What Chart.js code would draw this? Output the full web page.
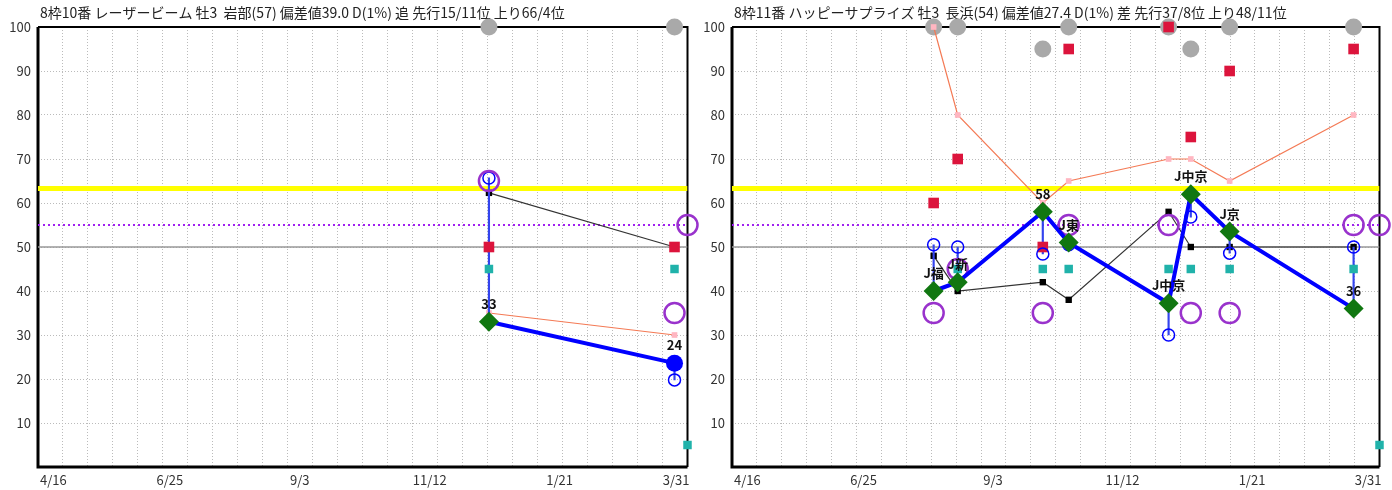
<!DOCTYPE html>
<html>
<head>
<meta charset="utf-8">
<script src="https://cdn.jsdelivr.net/npm/chart.js"></script>
<style>
  body { margin: 0; background: #fff; }
  #wrap { display: flex; width: 1392px; height: 490px; }
</style>
</head>
<body>
<div id="wrap">
  <canvas id="c1" width="700" height="490"></canvas>
  <canvas id="c2" width="692" height="490"></canvas>
</div>
<script>
// 期間（X軸）
const seasonStart = "2023-04-16";
const seasonEnd = "2024-03-31";
const xTickLabels = ["4/16", "6/25", "9/3", "11/12", "1/21", "3/31"];

// 左：レーザービーム
const leftTitle = "8枠10番 レーザービーム 牡3  岩部(57) 偏差値39.0 D(1%) 追 先行15/11位 上り66/4位";
const leftDates = ["2023-12-15", "2024-03-24"];
const leftMain = [33, 23.6];
const leftSub = [65.7, 19.8];
const leftBlack = [62.3, 50];
const leftPink = [35, 30];
const leftRed = [50, 50];
const leftTeal = [45, 45];
const leftPurple = [65, 35];
const leftGray = [100, 100];
const leftLabels = ["33", "24"];
const leftYellow = 63.3;
const leftDotted = 55;
const leftEdgePurple = 55;
const leftEdgeTeal = 5;

// 右：ハッピーサプライズ
const rightTitle = "8枠11番 ハッピーサプライズ 牡3  長浜(54) 偏差値27.4 D(1%) 差 先行37/8位 上り48/11位";
const rightDates = ["2023-08-03", "2023-08-16", "2023-10-01", "2023-10-15", "2023-12-08", "2023-12-20", "2024-01-10", "2024-03-17"];
const rightMain = [40, 42, 58, 51, 37.2, 62, 53.5, 36];
const rightSub = [50.5, 50, 48.4, 50.5, 30, 56.8, 48.6, 50];
const rightBlack = [48, 40, 42, 38, 58, 50, 50, 50];
const rightPink = [100, 80, 60, 65, 70, 70, 65, 80];
const rightRed = [60, 70, 50, 95, 100, 75, 90, 95];
const rightTeal = [null, 45, 45, 45, 45, 45, 45, 45];
const rightPurple = [35, 45, 35, 55, 55, 35, 35, 55];
const rightGray = [100, 100, 95, 100, 100, 95, 100, 100];
const rightLabels = ["J福", "J新", "58", "J東", "J中京", "J中京", "J京", "36"];
const rightYellow = 63.3;
const rightDotted = 55;
const rightEdgePurple = 55;
const rightEdgeTeal = 5;

const midLine = 50;

Chart.defaults.font.family = "'Noto Sans CJK JP', 'Noto Sans', sans-serif";
Chart.defaults.color = "#333";

const dayOf = (d) => Math.round((Date.parse(d) - Date.parse(seasonStart)) / 86400000);
const lastDay = dayOf(seasonEnd);

const pts = (dates, vals) =>
  dates.map((d, i) => ({ x: dayOf(d), y: vals[i] })).filter((p) => p.y != null);
const hline = (v) => [{ x: 0, y: v }, { x: lastDay, y: v }];

// 枠とタイトル
const framePlugin = {
  id: "frame",
  beforeDatasetsDraw(chart, args, opts) {
    const { ctx, chartArea: a } = chart;
    ctx.save();
    ctx.strokeStyle = "#000";
    ctx.lineWidth = 2;
    ctx.beginPath();
    ctx.moveTo(a.left, a.top);
    ctx.lineTo(a.right, a.top);
    ctx.lineTo(a.right, a.bottom);
    ctx.stroke();
    ctx.lineWidth = 3;
    ctx.beginPath();
    ctx.moveTo(a.left, a.top);
    ctx.lineTo(a.left, a.bottom);
    ctx.lineTo(a.right, a.bottom);
    ctx.stroke();
    ctx.fillStyle = "#222";
    ctx.font = "14px 'Noto Sans CJK JP'";
    ctx.textBaseline = "middle";
    ctx.fillText(opts.text, a.left + 2, 13);
    ctx.restore();
  },
};

// メイン点のラベル
const labelPlugin = {
  id: "raceLabels",
  afterDatasetsDraw(chart, args, opts) {
    const { ctx } = chart;
    const meta = chart.getDatasetMeta(0);
    ctx.save();
    ctx.font = "bold 13px 'Noto Sans CJK JP'";
    ctx.fillStyle = "#111";
    ctx.textAlign = "center";
    ctx.textBaseline = "middle";
    meta.data.forEach((el, i) => ctx.fillText(opts.labels[i], el.x, el.y - 18));
    ctx.restore();
  },
};

const makePanel = (canvas, p) =>
  new Chart(canvas, {
    type: "scatter",
    data: {
      datasets: [
        {
          data: pts(p.dates, p.main),
          showLine: true,
          borderColor: "#0000ff",
          borderWidth: 4,
          pointStyle: p.mainStyles,
          pointRadius: p.mainRadius,
          pointBackgroundColor: p.mainColors,
          pointBorderWidth: 0,
          order: 1,
          clip: false,
        },
        {
          data: pts(p.dates, p.purple).concat([{ x: lastDay, y: p.edgePurple }]),
          pointRadius: 10,
          pointBorderWidth: 2.5,
          pointBorderColor: "#9932cc",
          pointBackgroundColor: "rgba(0,0,0,0)",
          order: 2,
          clip: false,
        },
        {
          data: pts(p.dates, p.sub),
          pointRadius: 6,
          pointBorderWidth: 1.5,
          pointBorderColor: "#0000ff",
          pointBackgroundColor: "rgba(0,0,0,0)",
          order: 3,
          clip: false,
        },
        {
          type: "bar",
          data: p.dates.map((d, i) => ({ x: dayOf(d), y: [p.main[i], p.sub[i]] })),
          backgroundColor: "#3344ee",
          barThickness: 1.5,
          borderWidth: 0,
          order: 6,
        },
        {
          data: pts(p.dates, p.red),
          pointStyle: "rect",
          pointRadius: 7.5,
          pointBackgroundColor: "#dc143c",
          pointBorderWidth: 0,
          order: 4,
          clip: false,
        },
        {
          data: pts(p.dates, p.teal).concat([{ x: lastDay, y: p.edgeTeal }]),
          pointStyle: "rect",
          pointRadius: 6,
          pointBackgroundColor: "#20b2aa",
          pointBorderWidth: 0,
          order: 5,
          clip: false,
        },
        {
          data: pts(p.dates, p.black),
          showLine: true,
          borderColor: "#333",
          borderWidth: 1.2,
          pointStyle: "rect",
          pointRadius: 4.5,
          pointBackgroundColor: "#000",
          pointBorderWidth: 0,
          order: 7,
          clip: false,
        },
        {
          data: pts(p.dates, p.pink),
          showLine: true,
          borderColor: "#f47a55",
          borderWidth: 1.2,
          pointStyle: "rect",
          pointRadius: 4,
          pointBackgroundColor: "#ffb6c1",
          pointBorderWidth: 0,
          order: 8,
          clip: false,
        },
        {
          data: pts(p.dates, p.gray),
          pointRadius: 8.5,
          pointBackgroundColor: "#a9a9a9",
          pointBorderWidth: 0,
          order: 9,
          clip: false,
        },
        {
          data: hline(midLine),
          showLine: true,
          borderColor: "#999",
          borderWidth: 1.5,
          pointRadius: 0,
          order: 10,
        },
        {
          data: hline(p.dotted),
          showLine: true,
          borderColor: "#a020f0",
          borderWidth: 2,
          borderDash: [2, 3],
          pointRadius: 0,
          order: 11,
        },
        {
          data: hline(p.yellow),
          showLine: true,
          borderColor: "#ffff00",
          borderWidth: 5,
          pointRadius: 0,
          order: 12,
        },
      ],
    },
    options: {
      responsive: false,
      animation: false,
      layout: { padding: { top: 27, right: p.padRight, left: 0, bottom: 0 } },
      plugins: {
        legend: { display: false },
        tooltip: { enabled: false },
        frame: { text: p.title },
        raceLabels: { labels: p.labels },
      },
      scales: {
        x: {
          type: "linear",
          min: 0,
          max: lastDay,
          offset: false,
          grid: { display: false, offset: false, drawTicks: false },
          border: { display: false },
          ticks: {
            stepSize: 70,
            padding: 5,
            align: "inner",
            labelOffset: 2,
            font: { size: 13 },
            callback: (v, i) => xTickLabels[i],
          },
          afterFit: (s) => {
            s.height = 23;
            s.paddingLeft = 0;
            s.paddingRight = 0;
          },
        },
        xg: {
          type: "linear",
          position: "bottom",
          min: 0,
          max: 26,
          offset: false,
          grid: { color: "#bbb", lineWidth: 1, drawTicks: false },
          border: { display: false, dash: [1, 2] },
          ticks: { display: false, stepSize: 1 },
          afterFit: (s) => {
            s.height = 0;
            s.paddingLeft = 0;
            s.paddingRight = 0;
          },
        },
        y: {
          min: 0,
          max: 100,
          grid: { color: "#bbb", lineWidth: 1, drawTicks: false },
          border: { display: false, dash: [1, 2] },
          ticks: {
            stepSize: 10,
            padding: 7,
            font: { size: 13 },
            callback: (v) => (v === 0 ? "" : v),
          },
          afterFit: (s) => {
            s.width = p.axisWidth;
            s.paddingTop = 0;
            s.paddingBottom = 0;
          },
        },
      },
    },
    plugins: [framePlugin, labelPlugin],
  });

makePanel(document.getElementById("c1"), {
  title: leftTitle, dates: leftDates, main: leftMain, sub: leftSub, black: leftBlack,
  pink: leftPink, red: leftRed, teal: leftTeal, purple: leftPurple, gray: leftGray,
  labels: leftLabels, yellow: leftYellow, dotted: leftDotted,
  edgePurple: leftEdgePurple, edgeTeal: leftEdgeTeal,
  mainStyles: ["rectRot", "circle"], mainRadius: [10, 8.5], mainColors: ["#117711", "#0000ff"],
  axisWidth: 38, padRight: 12,
});

makePanel(document.getElementById("c2"), {
  title: rightTitle, dates: rightDates, main: rightMain, sub: rightSub, black: rightBlack,
  pink: rightPink, red: rightRed, teal: rightTeal, purple: rightPurple, gray: rightGray,
  labels: rightLabels, yellow: rightYellow, dotted: rightDotted,
  edgePurple: rightEdgePurple, edgeTeal: rightEdgeTeal,
  mainStyles: "rectRot", mainRadius: 10, mainColors: "#117711",
  axisWidth: 32, padRight: 9,
});
</script>
</body>
</html>
